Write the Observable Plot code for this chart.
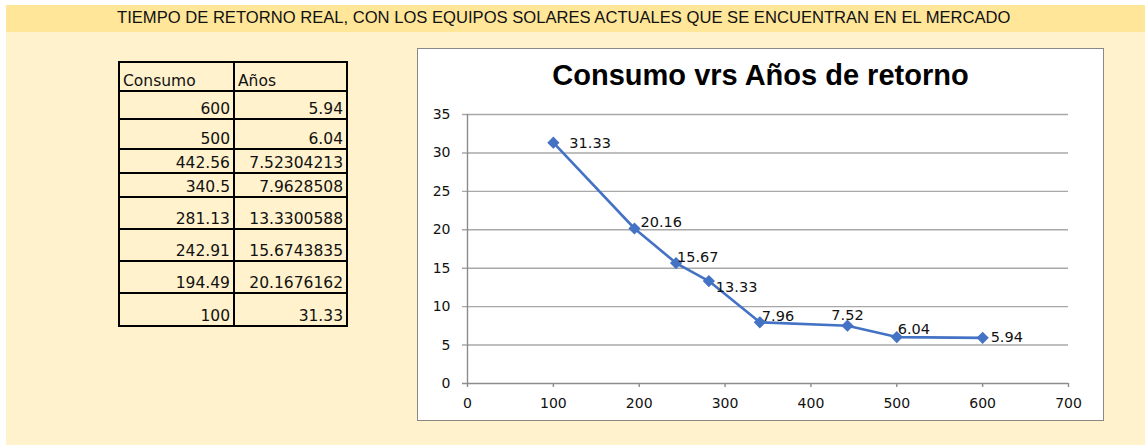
<!DOCTYPE html>
<html>
<head>
<meta charset="utf-8">
<script src="https://cdn.jsdelivr.net/npm/d3@7"></script>
<script src="https://cdn.jsdelivr.net/npm/@observablehq/plot@0.6"></script>
<style>
  html, body { margin: 0; padding: 0; background: #ffffff; }
  body { width: 1145px; height: 445px; position: relative; overflow: hidden; }
  .abs { position: absolute; }
  #cream { left: 6px; top: 5px; right: 0; bottom: 0; background: #FFF2CC; }
  #band { left: 6px; top: 5px; right: 0; height: 27px; background: #FFE699; }
  #header { left: 117px; top: 8px; white-space: nowrap; font-family: "Liberation Sans", Arial, sans-serif; font-size: 16.6px; color: #111; line-height: 20px; }
  #frame { left: 417px; top: 48px; width: 687px; height: 373px; box-sizing: border-box; border: 1.5px solid #888; background: #fff; }
  #chart { left: 418px; top: 49px; }
  #title { left: 418px; top: 59px; width: 685px; text-align: center; font-family: "Liberation Sans", Arial, sans-serif; font-weight: bold; font-size: 29px; color: #000; white-space: nowrap; }
  .cell { position: absolute; box-sizing: border-box; border: 2px solid #000; display: flex; align-items: flex-end; font-family: "DejaVu Sans", sans-serif; font-size: 15.5px; line-height: 15.5px; color: #111; padding: 0 3px 0.5px 3px; white-space: nowrap; }
</style>
</head>
<body>
<div id="cream" class="abs"></div>
<div id="band" class="abs"></div>
<div id="header" class="abs"></div>
<div id="frame" class="abs"></div>
<div id="chart" class="abs"></div>
<div id="title" class="abs"></div>
<div id="table"></div>
<script>
// ---- Data ----
const headerText = "TIEMPO DE RETORNO REAL, CON LOS EQUIPOS SOLARES ACTUALES QUE SE ENCUENTRAN EN EL MERCADO";
const chartTitle = "Consumo vrs Años de retorno";
const tableHeaders = ["Consumo", "Años"];
const consumoText = ["600", "500", "442.56", "340.5", "281.13", "242.91", "194.49", "100"];
const aniosText = ["5.94", "6.04", "7.52304213", "7.9628508", "13.3300588", "15.6743835", "20.1676162", "31.33"];
const consumo = [600, 500, 442.56, 340.5, 281.13, 242.91, 194.49, 100];
const anios = [5.94, 6.04, 7.52304213, 7.9628508, 13.3300588, 15.6743835, 20.1676162, 31.33];
const pointLabels = ["5.94", "6.04", "7.52", "7.96", "13.33", "15.67", "20.16", "31.33"];
const xTicks = [0, 100, 200, 300, 400, 500, 600, 700];
const yTicks = [0, 5, 10, 15, 20, 25, 30, 35];

// ---- Layout (not data) ----
const rowEdges = [62, 91, 119, 149, 173, 197, 229, 261, 293, 326];
const colEdges = [119, 234, 347];
// label placement per point: [dx, dy, anchor]
const labelPlacement = [
  [8, 0, "start"], [1, -8, "start"], [0, -10, "middle"], [2, -6, "start"],
  [7, 6, "start"], [1, -6, "start"], [6, -6, "start"], [16, 1, "start"]
];

document.getElementById("header").textContent = headerText;
document.getElementById("title").textContent = chartTitle;

// ---- Table ----
const tableEl = document.getElementById("table");
const rows = [tableHeaders].concat(consumoText.map((c, i) => [c, aniosText[i]]));
rows.forEach((r, i) => {
  r.forEach((txt, j) => {
    const d = document.createElement("div");
    d.className = "cell";
    d.style.left = (colEdges[j] - 1) + "px";
    d.style.top = (rowEdges[i] - 1) + "px";
    d.style.width = (colEdges[j + 1] - colEdges[j] + 2) + "px";
    d.style.height = (rowEdges[i + 1] - rowEdges[i] + 2) + "px";
    d.style.justifyContent = i === 0 ? "flex-start" : "flex-end";
    d.textContent = txt;
    tableEl.appendChild(d);
  });
});

// ---- Chart ----
const data = consumo.map((c, i) => ({x: c, y: anios[i], label: pointLabels[i]}));
const gridColor = "#a8a8a8";
const axisColor = "#8c8c8c";
const blue = "#4472C4";

const labelMarks = data.map((d, i) => Plot.text([d], {
  x: "x", y: "y", text: "label",
  dx: labelPlacement[i][0], dy: labelPlacement[i][1], textAnchor: labelPlacement[i][2],
  fill: "#111", fontSize: 14.5
}));

const chart = Plot.plot({
  width: 685,
  height: 371,
  marginLeft: 49,
  marginRight: 35,
  marginTop: 65,
  marginBottom: 37,
  style: {fontFamily: "DejaVu Sans, sans-serif", fontSize: "14px", background: "transparent", color: "#111"},
  x: {domain: [0, 700], ticks: xTicks},
  y: {domain: [0, 35], ticks: yTicks},
  marks: [
    Plot.ruleY(yTicks.filter(d => d > 0), {stroke: gridColor, strokeWidth: 1.4, insetLeft: -5}),
    Plot.ruleY([0], {stroke: axisColor, strokeWidth: 1.4, insetLeft: -5}),
    Plot.ruleX([0], {stroke: axisColor, strokeWidth: 1.4}),
    Plot.axisX({ticks: xTicks, tickSize: 4, tickPadding: 11, stroke: axisColor, fill: "#111", fontSize: 14, strokeWidth: 1.4, label: null}),
    Plot.axisY({ticks: yTicks, tickSize: 0, tickPadding: 17, fill: "#111", fontSize: 14, label: null}),
    Plot.line(data, {x: "x", y: "y", stroke: blue, strokeWidth: 2.6}),
    Plot.dot(data, {x: "x", y: "y", symbol: "diamond2", r: 5.5, fill: blue, stroke: "none"}),
    ...labelMarks
  ]
});
document.getElementById("chart").appendChild(chart);
</script>
</body>
</html>
